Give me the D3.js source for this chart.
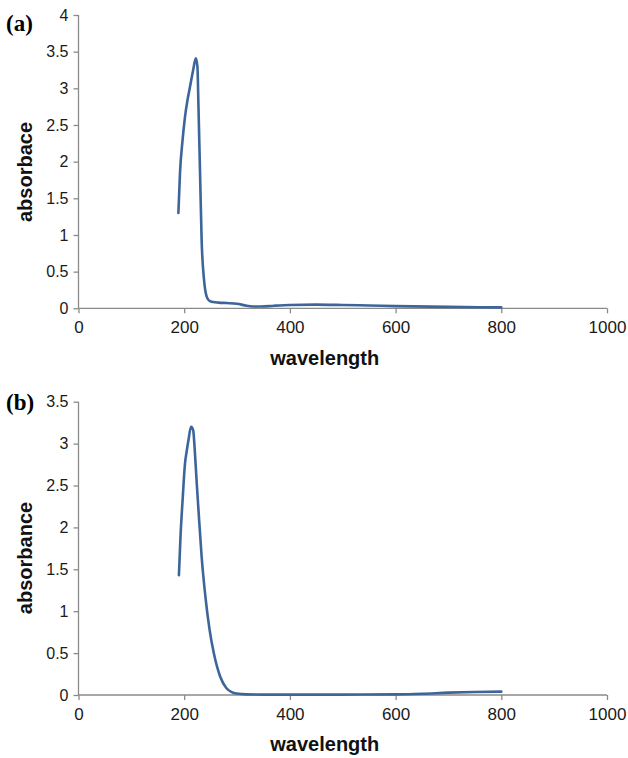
<!DOCTYPE html>
<html>
<head>
<meta charset="utf-8">
<script src="https://cdn.jsdelivr.net/npm/d3@7"></script>
<style>
  html, body { margin: 0; padding: 0; background: #fff; }
  svg { display: block; }
</style>
</head>
<body>
<svg id="chart" width="628" height="758"></svg>
<script>
// UV-Vis spectra: wavelength (nm) vs absorbance
const xTicks = [0, 200, 400, 600, 800, 1000];

// Panel (a)
const wavelengthA = [189, 192, 197, 201.5, 206, 211, 217, 222, 225, 227, 230, 233, 237.5, 242.5, 248, 255, 265, 280, 300, 315, 330, 345, 370, 400, 450, 500, 550, 600, 700, 800];
const absorbanceA = [1.30, 1.84, 2.30, 2.61, 2.83, 3.02, 3.25, 3.41, 3.30, 2.75, 1.84, 0.93, 0.39, 0.16, 0.10, 0.085, 0.078, 0.072, 0.062, 0.040, 0.025, 0.024, 0.035, 0.045, 0.050, 0.045, 0.038, 0.030, 0.020, 0.012];
const yTicksA = [0, 0.5, 1, 1.5, 2, 2.5, 3, 3.5, 4];

// Panel (b)
const wavelengthB = [190, 193, 197, 201.5, 205, 208, 213, 217, 220, 224, 227, 233, 240, 248, 256, 268, 280, 290, 299, 318, 350, 400, 500, 600, 650, 700, 750, 800];
const absorbanceB = [1.43, 1.89, 2.33, 2.76, 2.92, 3.04, 3.20, 3.16, 2.92, 2.50, 2.21, 1.65, 1.18, 0.78, 0.50, 0.22, 0.08, 0.035, 0.018, 0.008, 0.005, 0.005, 0.005, 0.008, 0.015, 0.028, 0.036, 0.040];
const yTicksB = [0, 0.5, 1, 1.5, 2, 2.5, 3, 3.5];

const panels = [
  { tag: "(a)", ylabel: "absorbace", x: wavelengthA, y: absorbanceA, yTicks: yTicksA,
    top: 15, bottom: 308.3, tagY: 31, labelY: 365, ylabelY: 172 },
  { tag: "(b)", ylabel: "absorbance", x: wavelengthB, y: absorbanceB, yTicks: yTicksB,
    top: 401.7, bottom: 695, tagY: 410, labelY: 751, ylabelY: 558 }
];

const svg = d3.select("#chart");
const left = 78.5, right = 607;
const axisColor = "#8a8a8a";
const tickFont = "'Liberation Sans', Arial, sans-serif";

panels.forEach(p => {
  const x = d3.scaleLinear().domain([0, 1000]).range([left, right]);
  const y = d3.scaleLinear().domain([0, d3.max(p.yTicks)]).range([p.bottom, p.top]);
  const g = svg.append("g");

  // y axis
  const yAxis = g.append("g")
    .attr("transform", `translate(${left},0)`)
    .call(d3.axisLeft(y).tickValues(p.yTicks).tickSize(5).tickPadding(5)
      .tickFormat(d => d3.format("")(d)));
  // x axis
  const xAxis = g.append("g")
    .attr("transform", `translate(0,${p.bottom})`)
    .call(d3.axisBottom(x).tickValues(xTicks).tickSize(5).tickPadding(8)
      .tickFormat(d3.format("d")));

  [yAxis, xAxis].forEach(a => {
    a.select(".domain").attr("stroke", axisColor).attr("stroke-width", 1.3);
    a.selectAll(".tick line").attr("stroke", axisColor).attr("stroke-width", 1.3);
    a.selectAll(".tick text").attr("fill", "#1a1a1a")
      .style("font-family", tickFont);
  });
  // plain axis lines without the outer end ticks
  yAxis.select(".domain").attr("d", `M0,${p.top}V${p.bottom}`);
  xAxis.select(".domain").attr("d", `M${left},0H${right}`);
  yAxis.selectAll(".tick text").style("font-size", "16px");
  xAxis.selectAll(".tick text").style("font-size", "17px");

  // spectrum line
  const pts = p.x.map((v, i) => [v, p.y[i]]);
  g.append("path")
    .datum(pts)
    .attr("fill", "none")
    .attr("stroke", "#3d659a")
    .attr("stroke-width", 2.6)
    .attr("stroke-linejoin", "round")
    .attr("stroke-linecap", "round")
    .attr("d", d3.line().x(d => x(d[0])).y(d => y(d[1])).curve(d3.curveMonotoneX));

  // axis titles
  g.append("text")
    .attr("x", (left + right) / 2 - 18)
    .attr("y", p.labelY)
    .attr("text-anchor", "middle")
    .style("font-family", "'Liberation Sans', Arial, sans-serif")
    .style("font-weight", "bold")
    .style("font-size", "20px")
    .attr("fill", "#111")
    .text("wavelength");

  g.append("text")
    .attr("transform", `translate(32,${p.ylabelY}) rotate(-90)`)
    .attr("text-anchor", "middle")
    .style("font-family", "'Liberation Sans', Arial, sans-serif")
    .style("font-weight", "bold")
    .style("font-size", "20px")
    .attr("fill", "#111")
    .text(p.ylabel);

  // panel tag
  g.append("text")
    .attr("x", 6)
    .attr("y", p.tagY)
    .style("font-family", "'Liberation Serif', 'Times New Roman', serif")
    .style("font-weight", "bold")
    .style("font-size", "23px")
    .attr("fill", "#000")
    .text(p.tag);
});
</script>
</body>
</html>
